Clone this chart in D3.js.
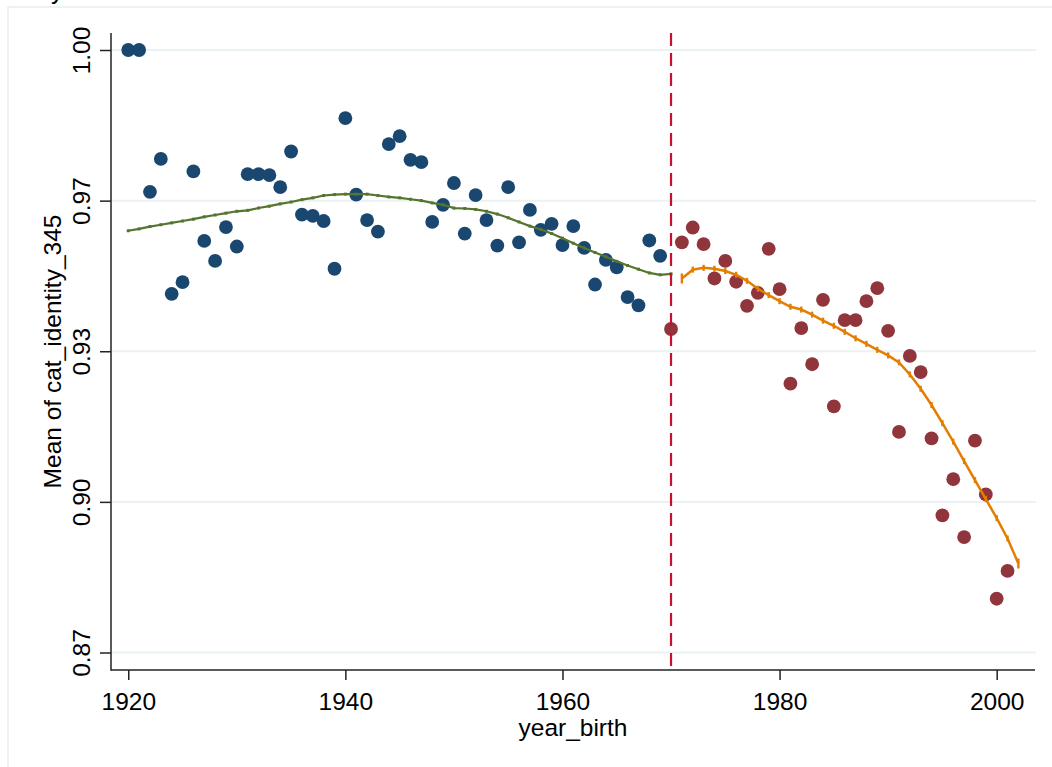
<!DOCTYPE html>
<html><head><meta charset="utf-8">
<script src="https://cdn.jsdelivr.net/npm/d3@7"></script>
<style>
body{margin:0;background:#fff}
svg{display:block}
text{font-family:"Liberation Sans",Arial,Helvetica,sans-serif;fill:#000}
</style>
</head><body>
<svg id="chart" width="1052" height="767"></svg>
<script>
// ---- data ----
const yearsPre = [1920,1921,1922,1923,1924,1925,1926,1927,1928,1929,1930,1931,1932,1933,1934,1935,1936,1937,1938,1939,1940,1941,1942,1943,1944,1945,1946,1947,1948,1949,1950,1951,1952,1953,1954,1955,1956,1957,1958,1959,1960,1961,1962,1963,1964,1965,1966,1967,1968,1969];
const valuesPre = [1.0000,1.0000,0.9694,0.9765,0.9474,0.9499,0.9738,0.9588,0.9545,0.9618,0.9576,0.9732,0.9732,0.9730,0.9704,0.9781,0.9645,0.9642,0.9631,0.9528,0.9853,0.9688,0.9633,0.9608,0.9797,0.9814,0.9763,0.9758,0.9629,0.9666,0.9713,0.9604,0.9687,0.9633,0.9578,0.9704,0.9585,0.9655,0.9612,0.9625,0.9579,0.9620,0.9573,0.9494,0.9547,0.9531,0.9467,0.9449,0.9589,0.9556];
const yearsPost = [1970,1971,1972,1973,1974,1975,1976,1977,1978,1979,1980,1981,1982,1983,1984,1985,1986,1987,1988,1989,1990,1991,1992,1993,1994,1995,1996,1997,1998,1999,2000,2001];
const valuesPost = [0.9398,0.9585,0.9617,0.9581,0.9507,0.9545,0.9500,0.9448,0.9476,0.9571,0.9484,0.9280,0.9400,0.9322,0.9461,0.9231,0.9417,0.9417,0.9458,0.9486,0.9394,0.9176,0.9340,0.9305,0.9162,0.8996,0.9074,0.8949,0.9157,0.9041,0.8816,0.8876];
const smoothPreYears = [1920,1921,1922,1923,1924,1925,1926,1927,1928,1929,1930,1931,1932,1933,1934,1935,1936,1937,1938,1939,1940,1941,1942,1943,1944,1945,1946,1947,1948,1949,1950,1951,1952,1953,1954,1955,1956,1957,1958,1959,1960,1961,1962,1963,1964,1965,1966,1967,1968,1969,1970];
const smoothPre = [0.9610,0.9614,0.9619,0.9623,0.9627,0.9631,0.9635,0.9640,0.9644,0.9648,0.9652,0.9654,0.9659,0.9663,0.9668,0.9672,0.9677,0.9681,0.9686,0.9688,0.9689,0.9689,0.9689,0.9686,0.9683,0.9681,0.9678,0.9675,0.9670,0.9666,0.9659,0.9658,0.9656,0.9652,0.9646,0.9638,0.9629,0.9620,0.9613,0.9604,0.9594,0.9583,0.9573,0.9563,0.9554,0.9544,0.9535,0.9527,0.9519,0.9515,0.9517];
const smoothPostYears = [1971,1972,1973,1974,1975,1976,1977,1978,1979,1980,1981,1982,1983,1984,1985,1986,1987,1988,1989,1990,1991,1992,1993,1994,1995,1996,1997,1998,1999,2000,2001,2002];
const smoothPost = [0.9507,0.9526,0.9530,0.9528,0.9523,0.9515,0.9502,0.9485,0.9471,0.9458,0.9446,0.9440,0.9429,0.9416,0.9405,0.9392,0.9378,0.9366,0.9353,0.9341,0.9326,0.9300,0.9269,0.9234,0.9195,0.9155,0.9113,0.9072,0.9031,0.8990,0.8946,0.8892];
const cutoffYear = 1970;
const xTicks = [1920,1940,1960,1980,2000];
const yTicks = [0.87,0.9025,0.935,0.9675,1.00];
const yTickLabels = ["0.87","0.90","0.93","0.97","1.00"];
const xTitle = "year_birth";
const yTitle = "Mean of cat_identity_345";
const clippedTitle = "y";

// ---- layout ----
const svg = d3.select("#chart");
const L = 111, R = 1035, T = 33, B = 670;
const x = d3.scaleLinear().domain([1918.41, 2003.53]).range([L, R]);
const y = d3.scaleLinear().domain([0.87, 1.00]).range([652.5, 50]);

const C = {blue:"#1a476f", red:"#90353b", green:"#55752f", orange:"#e37e00", grid:"#eaf2f3", cut:"#c8102e"};

// outer frame
svg.append("rect").attr("x",8).attr("y",7).attr("width",1100).attr("height",800)
  .attr("fill","#fff").attr("stroke","#e8eef0").attr("stroke-width",1.5);

// partially visible title at the very top
svg.append("text").attr("x",51).attr("y",-1).attr("font-size",25).text(clippedTitle);

// gridlines
svg.append("g").selectAll("line").data(yTicks).join("line")
  .attr("x1",L).attr("x2",R+1).attr("y1",d=>y(d)).attr("y2",d=>y(d))
  .attr("stroke",C.grid).attr("stroke-width",2);

// scatter
svg.append("g").selectAll("circle").data(yearsPre.map((d,i)=>[d,valuesPre[i]])).join("circle")
  .attr("cx",d=>x(d[0])).attr("cy",d=>y(d[1])).attr("r",6.9).attr("fill",C.blue);
svg.append("g").selectAll("circle").data(yearsPost.map((d,i)=>[d,valuesPost[i]])).join("circle")
  .attr("cx",d=>x(d[0])).attr("cy",d=>y(d[1])).attr("r",6.9).attr("fill",C.red);

// smooth lines
const line = d3.line().x(d=>x(d[0])).y(d=>y(d[1]));
const preData = smoothPreYears.map((d,i)=>[d,smoothPre[i]]);
const postData = smoothPostYears.map((d,i)=>[d,smoothPost[i]]);
svg.append("path").datum(preData).attr("d",line).attr("fill","none")
  .attr("stroke",C.green).attr("stroke-width",2.2);
svg.append("g").selectAll("rect").data(preData).join("rect")
  .attr("x",d=>x(d[0])-1.5).attr("y",d=>y(d[1])-1.5).attr("width",3).attr("height",3).attr("fill",C.green);
svg.append("path").datum(postData).attr("d",line).attr("fill","none")
  .attr("stroke",C.orange).attr("stroke-width",2.5);
svg.append("g").selectAll("rect").data(postData).join("rect")
  .attr("x",d=>x(d[0])-1.2).attr("y",(d,i)=>y(d[1])-((i===0||i===postData.length-1)?5:3))
  .attr("width",2.4).attr("height",(d,i)=>(i===0||i===postData.length-1)?10:6).attr("fill",C.orange);

// cutoff dashed line
svg.append("line").attr("x1",x(cutoffYear)).attr("x2",x(cutoffYear)).attr("y1",T).attr("y2",B)
  .attr("stroke",C.cut).attr("stroke-width",2.2).attr("stroke-dasharray","13,7");

// axes
const fs = 24.5;
const yAxis = svg.append("g").attr("transform",`translate(${L},0)`)
  .call(d3.axisLeft(y).tickValues(yTicks).tickFormat((d,i)=>yTickLabels[i]).tickSize(11).tickSizeOuter(0));
yAxis.select(".domain").remove();
yAxis.selectAll(".tick line").attr("stroke","#222").attr("stroke-width",1.5);
yAxis.selectAll(".tick text").attr("font-size",fs).attr("font-family",null)
  .attr("transform","rotate(-90)").attr("x",0).attr("y",-21).attr("dy",0)
  .attr("text-anchor","middle");

const xAxis = svg.append("g").attr("transform",`translate(0,${B})`)
  .call(d3.axisBottom(x).tickValues(xTicks).tickFormat(d3.format("d")).tickSize(10).tickSizeOuter(0));
xAxis.select(".domain").remove();
xAxis.selectAll(".tick line").attr("stroke","#222").attr("stroke-width",1.5);
xAxis.selectAll(".tick text").attr("font-size",fs).attr("font-family",null).attr("y",39.5).attr("dy",0);

// axis lines
svg.append("line").attr("x1",L).attr("x2",L).attr("y1",T).attr("y2",B+0.75).attr("stroke","#222").attr("stroke-width",1.5);
svg.append("line").attr("x1",L).attr("x2",R).attr("y1",B).attr("y2",B).attr("stroke","#222").attr("stroke-width",1.5);

// titles
svg.append("text").attr("x",(L+R)/2).attr("y",736).attr("text-anchor","middle").attr("font-size",fs).text(xTitle);
svg.append("text").attr("transform",`translate(61,${(T+B)/2}) rotate(-90)`).attr("text-anchor","middle").attr("font-size",fs).text(yTitle);
</script>
</body></html>
